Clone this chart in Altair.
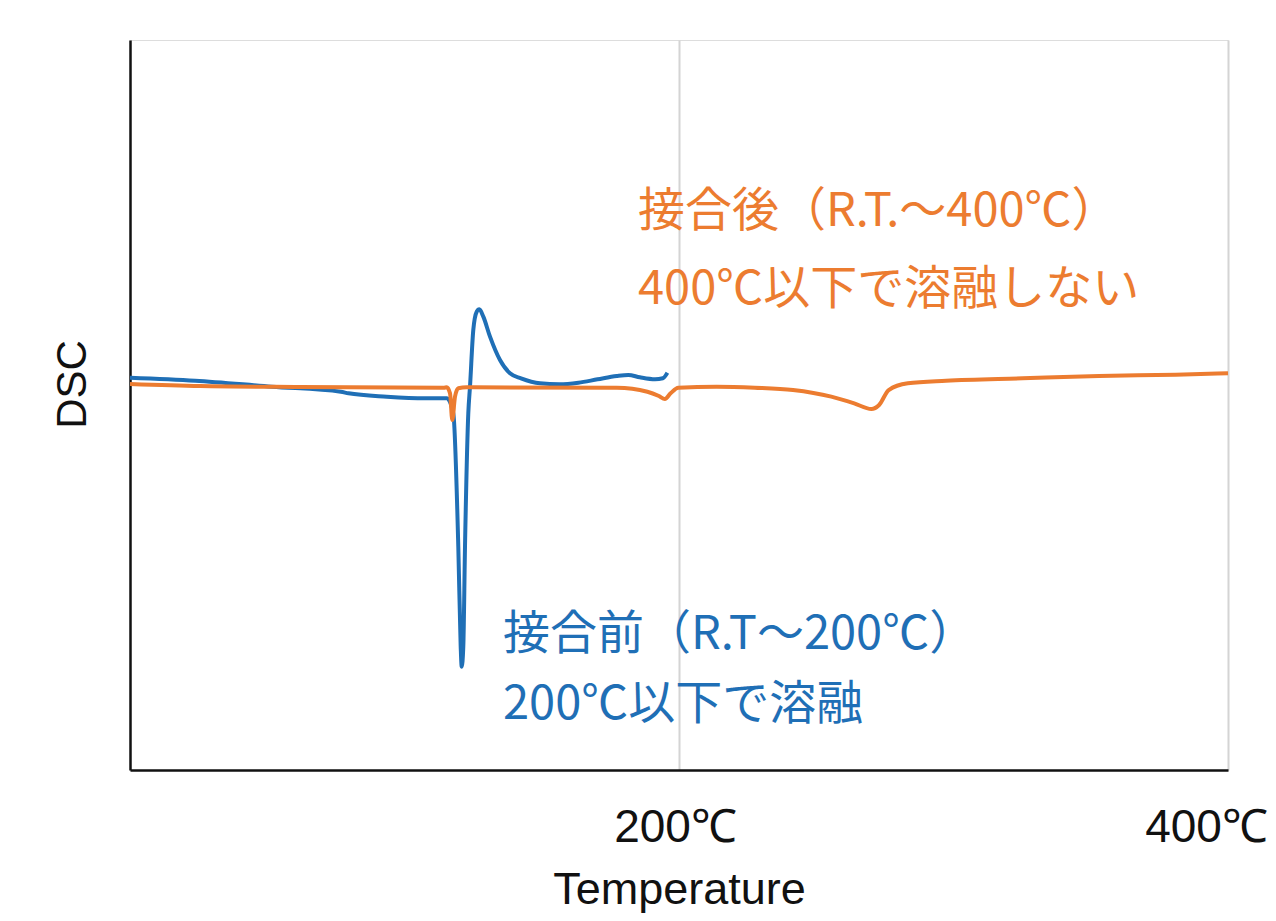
import altair as alt
import pandas as pd

# Blue: before bonding (R.T ~ 200C)
blue_t = [0.0, 23.75, 51.66, 76.80, 79.60, 93.55, 107.51, 114.50, 115.37, 117.78, 119.60,
          120.47, 120.84, 121.42, 122.04, 123.24, 123.86, 125.06, 126.30, 127.25, 128.71,
          131.15, 134.79, 138.43, 142.44, 149.36, 156.39, 163.35, 170.35, 177.34, 181.53,
          185.72, 191.29, 194.10, 195.77]
blue_v = [53.74, 53.33, 52.51, 51.82, 51.60, 51.14, 50.92, 50.92, 50.92, 48.86, 30.59,
          16.89, 14.15, 16.89, 30.59, 48.86, 52.51, 60.27, 62.78, 63.11, 62.10,
          59.36, 56.16, 54.34, 53.66, 52.97, 52.84, 53.05, 53.52, 53.97, 54.11,
          53.79, 53.52, 53.66, 54.42]

# Orange: after bonding (R.T. ~ 400C)
orange_t = [0.0, 25.5, 61.93, 114.39, 115.37, 116.58, 117.41, 118.40, 119.60, 122.66,
            177.34, 188.49, 192.68, 194.86, 196.94, 199.74, 213.66, 227.62, 241.53, 255.48,
            263.83, 270.09, 272.90, 276.39, 283.35, 297.27, 325.17, 353.01, 380.91, 400.0]
orange_v = [52.88, 52.60, 52.47, 52.37, 52.42, 51.60, 47.95, 51.14, 52.29, 52.42,
            52.37, 51.82, 51.23, 50.82, 51.60, 52.37, 52.51, 52.37, 52.05, 51.14,
            50.23, 49.45, 50.00, 52.05, 52.97, 53.33, 53.66, 53.97, 54.15, 54.34]

x_ticks = [200, 400]
x_labels = ["200℃", "400℃"]

orange_text = ["接合後（R.T.～400℃）", "400℃以下で溶融しない"]
blue_text = ["接合前（R.T～200℃）", "200℃以下で溶融"]

BLUE = "#1f6fb6"
ORANGE = "#ec7c30"

df_blue = pd.DataFrame({"T": blue_t, "DSC": blue_v, "order": range(len(blue_t))})
df_orange = pd.DataFrame({"T": orange_t, "DSC": orange_v, "order": range(len(orange_t))})

label_expr = "datum.value == 200 ? '%s' : '%s'" % (x_labels[0], x_labels[1])

x_enc = alt.X(
    "T:Q",
    scale=alt.Scale(domain=[0, 400], nice=False, zero=False),
    axis=alt.Axis(
        values=x_ticks,
        labelExpr=label_expr,
        ticks=False,
        grid=True,
        gridColor="#d4d4d4",
        gridWidth=2,
        domain=True,
        domainColor="#111111",
        domainWidth=2.5,
        labelFont="Liberation Sans",
        labelFontSize=46,
        labelColor="#111111",
        labelPadding=35,
        labelFlush=False,
        labelOffset={"condition": {"test": "datum.value == 400", "value": -22}, "value": -4},
        title="Temperature",
        titleFont="Liberation Sans",
        titleFontSize=45,
        titleFontWeight="normal",
        titleColor="#111111",
        titleBaseline="alphabetic",
        titleY=133,
    ),
)
y_enc = alt.Y(
    "DSC:Q",
    scale=alt.Scale(domain=[0, 100], nice=False, zero=False),
    axis=alt.Axis(
        labels=False,
        ticks=False,
        grid=False,
        domain=True,
        domainColor="#111111",
        domainWidth=2.5,
        title="DSC",
        titleFont="Liberation Sans",
        titleFontSize=42,
        titleFontWeight="normal",
        titleColor="#111111",
        titleAngle=270,
        titleAlign="center",
        titleBaseline="middle",
        titleX=-58,
        titleY=344,
    ),
)

blue_line = alt.Chart(df_blue).mark_line(
    color=BLUE, strokeWidth=4, interpolate="monotone"
).encode(x=x_enc, y=y_enc, order="order:Q")

orange_line = alt.Chart(df_orange).mark_line(
    color=ORANGE, strokeWidth=4, interpolate="monotone"
).encode(x="T:Q", y="DSC:Q", order="order:Q")

def text_layer(txt, color, px, py):
    return alt.Chart(pd.DataFrame({"label": [txt]})).mark_text(
        align="left", baseline="middle", font="Noto Sans CJK JP",
        fontSize=47, color=color
    ).encode(text="label:N", x=alt.value(px), y=alt.value(py))

texts = [
    text_layer(orange_text[0], ORANGE, 508, 172),
    text_layer(orange_text[1], ORANGE, 508, 250),
    text_layer(blue_text[0], BLUE, 373, 595),
    text_layer(blue_text[1], BLUE, 373, 665),
]

chart = alt.layer(blue_line, orange_line, *texts).properties(
    width=1098,
    height=730,
    autosize=alt.AutoSizeParams(type="none"),
    padding={"left": 122, "top": 32, "right": 40, "bottom": 143},
).configure_view(
    stroke="#444444", strokeWidth=1.5
).configure(background="white")

chart.save("out.html", embed_options={"renderer": "svg", "actions": False})
